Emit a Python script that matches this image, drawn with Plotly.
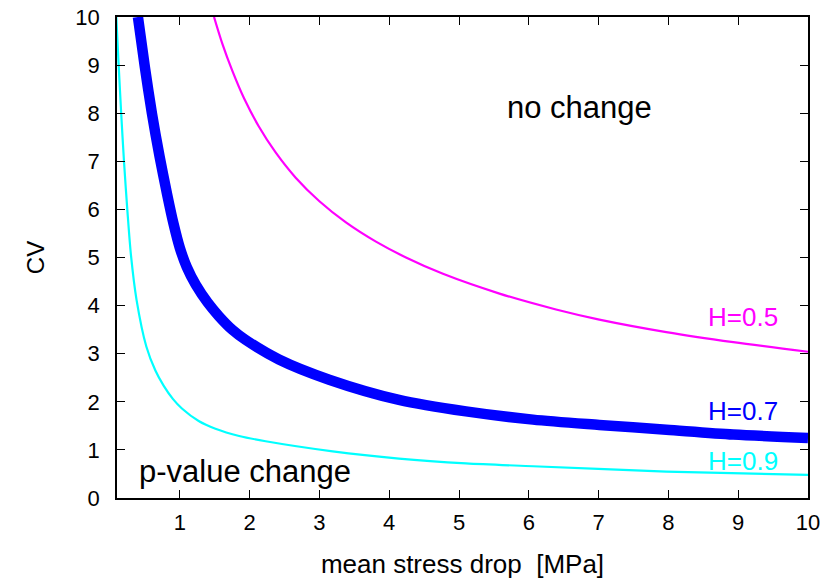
import plotly.graph_objects as go

# H=0.5 (magenta)
x_h05 = [1.49, 1.61, 1.75, 1.92, 2.13, 2.37, 2.66, 3.00, 3.38, 3.81, 4.24, 4.77, 5.58, 6.39, 7.01, 7.97, 8.93, 10.0]
y_h05 = [10.0, 9.44, 8.89, 8.31, 7.73, 7.19, 6.66, 6.17, 5.73, 5.33, 5.00, 4.66, 4.25, 3.92, 3.71, 3.45, 3.24, 3.04]

# H=0.7 (blue, thick)
x_h07 = [0.40, 0.50, 0.60, 0.71, 0.82, 0.91, 1.00, 1.10, 1.23, 1.40, 1.56, 1.75, 1.94, 2.42, 3.14, 4.14, 5.10, 6.06, 7.01, 7.97, 8.93, 10.0]
y_h07 = [10.0, 8.95, 8.00, 7.10, 6.30, 5.70, 5.20, 4.80, 4.43, 4.06, 3.78, 3.50, 3.29, 2.88, 2.46, 2.04, 1.80, 1.63, 1.52, 1.42, 1.32, 1.25]

# H=0.9 (cyan)
x_h09 = [0.09, 0.12, 0.16, 0.20, 0.25, 0.30, 0.38, 0.52, 0.65, 0.77, 0.90, 1.03, 1.27, 1.51, 1.85, 2.23, 3.19, 4.14, 5.10, 6.06, 7.97, 10.0]
y_h09 = [10.0, 9.10, 8.00, 7.00, 5.95, 5.05, 4.12, 3.15, 2.65, 2.33, 2.06, 1.86, 1.60, 1.44, 1.29, 1.18, 0.97, 0.82, 0.72, 0.66, 0.55, 0.48]

x_ticks = [1, 2, 3, 4, 5, 6, 7, 8, 9, 10]
y_ticks = [0, 1, 2, 3, 4, 5, 6, 7, 8, 9, 10]

FONT = "Arial, Liberation Sans, sans-serif"

fig = go.Figure()
fig.add_trace(go.Scatter(x=x_h05, y=y_h05, mode="lines", line=dict(color="#ff00ff", width=2.2, shape="spline", smoothing=0.8), showlegend=False))
fig.add_trace(go.Scatter(x=x_h07, y=y_h07, mode="lines", line=dict(color="#0000ff", width=10.5, shape="spline", smoothing=0.8), showlegend=False))
fig.add_trace(go.Scatter(x=x_h09, y=y_h09, mode="lines", line=dict(color="#00ffff", width=2.2, shape="spline", smoothing=0.8), showlegend=False))

annots = [
    dict(x=6.73, y=8.11, text="no change", font=dict(size=31, color="black"), xanchor="center", yanchor="middle"),
    dict(x=1.93, y=0.55, text="p-value change", font=dict(size=31, color="black"), xanchor="center", yanchor="middle"),
    dict(x=9.60, y=3.76, text="H=0.5", font=dict(size=26, color="#ff00ff"), xanchor="right", yanchor="middle"),
    dict(x=9.60, y=1.80, text="H=0.7", font=dict(size=26, color="#0000ff"), xanchor="right", yanchor="middle"),
    dict(x=9.60, y=0.76, text="H=0.9", font=dict(size=26, color="#00ffff"), xanchor="right", yanchor="middle"),
]
for a in annots:
    a.update(xref="x", yref="y", showarrow=False, font=dict(family=FONT, **a["font"]))
fig.update_layout(annotations=annots)

fig.update_layout(
    width=827, height=579,
    margin=dict(l=117, r=19, t=17, b=81),
    paper_bgcolor="white", plot_bgcolor="white",
    font=dict(family=FONT, size=22, color="black"),
    xaxis=dict(range=[0.1, 10], tickvals=x_ticks, ticktext=[str(v) for v in x_ticks],
               ticks="inside", ticklen=8, tickwidth=1.2, tickcolor="black",
               showline=True, linecolor="black", linewidth=1.5, mirror="allticks",
               showgrid=False, zeroline=False, ticklabelstandoff=4, automargin=False,
               title=dict(text="mean stress drop  [MPa]", font=dict(size=26), standoff=22)),
    yaxis=dict(range=[0, 10], tickvals=y_ticks, ticktext=[str(v) for v in y_ticks],
               ticks="inside", ticklen=8, tickwidth=1.2, tickcolor="black",
               showline=True, linecolor="black", linewidth=1.5, mirror="allticks",
               showgrid=False, zeroline=False, ticklabelstandoff=11, automargin=False,
               title=dict(text="CV", font=dict(size=24), standoff=24)),
)

fig.write_html("out.html")
